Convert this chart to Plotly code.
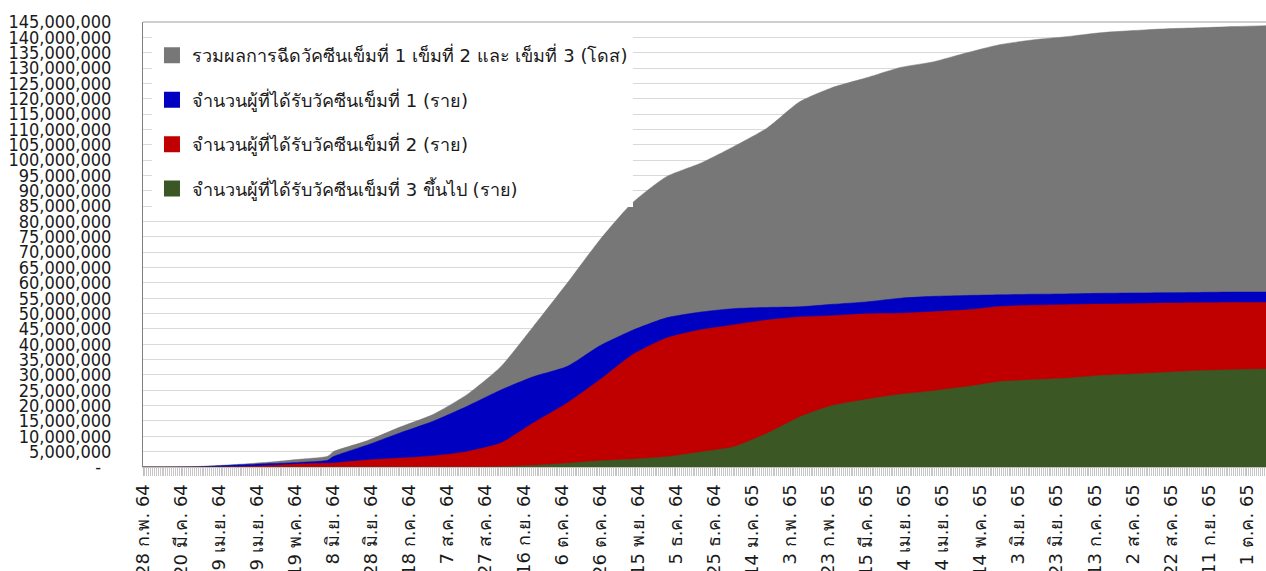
import plotly.graph_objects as go

# ---------------- data (values in millions) ----------------
dates = ["2021-02-28", "2021-03-30", "2021-04-20", "2021-05-06", "2021-05-21",
         "2021-06-05", "2021-06-08", "2021-06-26", "2021-07-13", "2021-07-30",
         "2021-08-17", "2021-09-04", "2021-09-21", "2021-10-09", "2021-10-26",
         "2021-11-12", "2021-11-30", "2021-12-18", "2022-01-04", "2022-01-22",
         "2022-02-08", "2022-02-25", "2022-03-15", "2022-04-02", "2022-04-19",
         "2022-05-07", "2022-05-24", "2022-06-11", "2022-06-28", "2022-07-16",
         "2022-08-02", "2022-08-20", "2022-09-06", "2022-09-24", "2022-10-11"]

total_doses = [0, 0.2, 0.9, 1.6, 2.5,
               3.5, 5.0, 8.6, 13.0, 17.0,
               23.5, 32.7, 45.7, 60.0, 74.0,
               86.0, 94.6, 99.0, 104.3, 110.5,
               119.0, 123.6, 126.8, 130.2, 132.0,
               135.0, 137.6, 139.2, 140.2, 141.5,
               142.2, 142.8, 143.1, 143.5, 143.8]

dose1 = [0, 0.1, 0.7, 1.1, 1.5,
         2.2, 3.4, 7.2, 11.1, 14.8,
         19.7, 25.1, 29.4, 32.8, 39.5,
         44.5, 48.6, 50.5, 51.6, 52.0,
         52.2, 53.0, 53.8, 55.0, 55.6,
         55.9, 56.1, 56.3, 56.4, 56.6,
         56.7, 56.8, 56.9, 57.0, 57.0]

dose2 = [0, 0, 0.1, 0.5, 1.0,
         1.2, 1.3, 2.3, 2.9, 3.6,
         5.0, 7.8, 14.3, 20.9, 28.4,
         36.5, 42.0, 44.7, 46.3, 47.9,
         48.9, 49.3, 49.9, 50.1, 50.6,
         51.2, 52.3, 52.7, 52.9, 53.1,
         53.2, 53.4, 53.5, 53.6, 53.6]

dose3 = [0, 0, 0, 0, 0,
         0, 0, 0, 0, 0,
         0, 0.1, 0.5, 1.2, 2.0,
         2.5, 3.3, 4.9, 6.5, 11.0,
         16.3, 20.0, 22.0, 23.7, 24.8,
         26.2, 27.8, 28.4, 28.9, 29.8,
         30.3, 30.9, 31.4, 31.7, 31.9]

series_names = ["รวมผลการฉีดวัคซีนเข็มที่ 1 เข็มที่ 2 และ เข็มที่ 3 (โดส)",
                "จำนวนผู้ที่ได้รับวัคซีนเข็มที่ 1 (ราย)",
                "จำนวนผู้ที่ได้รับวัคซีนเข็มที่ 2 (ราย)",
                "จำนวนผู้ที่ได้รับวัคซีนเข็มที่ 3 ขึ้นไป (ราย)"]
series_colors = ["#777777", "#0000C0", "#C00000", "#3A5724"]

x_tick_dates = ["2021-02-28", "2021-03-20", "2021-04-09", "2021-04-29", "2021-05-19",
                "2021-06-08", "2021-06-28", "2021-07-18", "2021-08-07", "2021-08-27",
                "2021-09-16", "2021-10-06", "2021-10-26", "2021-11-15", "2021-12-05",
                "2021-12-25", "2022-01-14", "2022-02-03", "2022-02-23", "2022-03-15",
                "2022-04-04", "2022-04-24", "2022-05-14", "2022-06-03", "2022-06-23",
                "2022-07-13", "2022-08-02", "2022-08-22", "2022-09-11", "2022-10-01"]
x_tick_labels = ["28 ก.พ. 64", "20 มี.ค. 64", "9 เม.ย. 64", "29 เม.ย. 64", "19 พ.ค. 64",
                 "8 มิ.ย. 64", "28 มิ.ย. 64", "18 ก.ค. 64", "7 ส.ค. 64", "27 ส.ค. 64",
                 "16 ก.ย. 64", "6 ต.ค. 64", "26 ต.ค. 64", "15 พ.ย. 64", "5 ธ.ค. 64",
                 "25 ธ.ค. 64", "14 ม.ค. 65", "3 ก.พ. 65", "23 ก.พ. 65", "15 มี.ค. 65",
                 "4 เม.ย. 65", "24 เม.ย. 65", "14 พ.ค. 65", "3 มิ.ย. 65", "23 มิ.ย. 65",
                 "13 ก.ค. 65", "2 ส.ค. 65", "22 ส.ค. 65", "11 ก.ย. 65", "1 ต.ค. 65"]

y_tick_vals = [i * 5_000_000 for i in range(30)]
y_tick_text = ["-\u00a0\u00a0"] + [f"{v:,}" for v in y_tick_vals[1:]]

# ---------------- figure ----------------
all_series = [total_doses, dose1, dose2, dose3]
fig = go.Figure()

for vals, name, col in zip(all_series, series_names, series_colors):
    fig.add_trace(go.Scatter(
        x=dates, y=[v * 1_000_000 for v in vals], mode="lines",
        line=dict(color=col, width=0.5, shape="spline", smoothing=0.6),
        fill="tozeroy", fillcolor=col,
        showlegend=False, hoverinfo="skip"))

for i, (name, col) in enumerate(zip(series_names, series_colors)):
    fig.add_trace(go.Scatter(
        x=[None], y=[None], mode="markers", name=name, legendgroup=f"g{i}",
        marker=dict(symbol="square", size=16, color=col)))

thai_font = "Tahoma, 'DejaVu Sans', 'Noto Sans', sans-serif"
num_font = "'DejaVu Sans Condensed', 'Noto Sans', sans-serif"

fig.update_layout(
    width=1266, height=571,
    margin=dict(l=143, r=0, t=22, b=104),
    paper_bgcolor="white", plot_bgcolor="white",
    font=dict(family=thai_font, size=16, color="#1a1a1a"),
    showlegend=True,
    legend=dict(x=0.008, y=0.966, xanchor="left", yanchor="top",
                bgcolor="white", font=dict(size=18, color="#1a1a1a"),
                tracegroupgap=18, itemsizing="trace", traceorder="grouped"),
    xaxis=dict(
        type="date", range=["2021-02-28", "2022-10-11"], automargin=False,
        tickmode="array", tickvals=x_tick_dates, ticktext=x_tick_labels,
        tickangle=-90, tickfont=dict(size=18, color="#1a1a1a"),
        showgrid=False, showline=True, linecolor="#BFBFBF", linewidth=1,
        ticks="outside", ticklen=8, tickcolor="#BFBFBF", ticklabelstandoff=1,
        minor=dict(dtick=86400000, ticks="outside", ticklen=8, tickcolor="#C8C8C8", showgrid=False),
        zeroline=False, mirror=False),
    yaxis=dict(
        range=[0, 145_000_000], tickmode="array", tickvals=y_tick_vals, ticktext=y_tick_text,
        tickfont=dict(family=num_font, size=18, color="#1a1a1a"), automargin=False,
        showgrid=True, gridcolor="#D9D9D9", gridwidth=1,
        showline=True, linecolor="#808080", linewidth=1,
        ticks="", ticklabelstandoff=27, zeroline=False),
)

fig.add_shape(type="line", xref="paper", yref="paper", x0=0, x1=1, y0=1, y1=1,
              line=dict(color="#BFBFBF", width=1.5))

post = ("document.body.style.margin='0';"
        "document.body.style.overflow='hidden';"
        "Plotly.relayout('{plot_id}', {width: 1266, height: 571});")

fig.write_html("out.html", post_script=post, config={"displayModeBar": False})
